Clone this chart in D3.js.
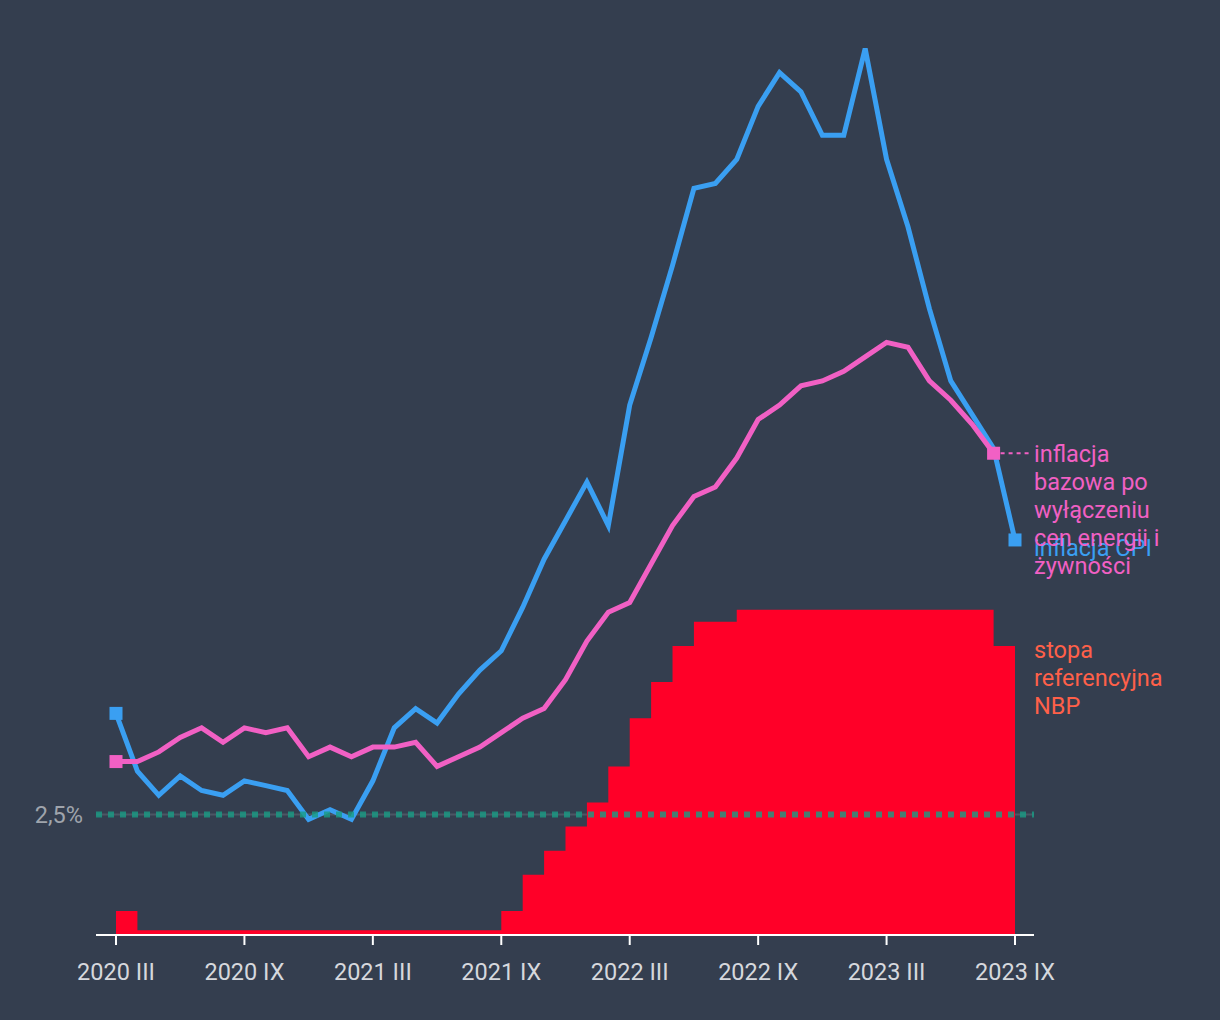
<!DOCTYPE html>
<html>
<head>
<meta charset="utf-8">
<script src="https://cdn.jsdelivr.net/npm/d3@7"></script>
<style>
  html, body { margin: 0; padding: 0; background: #343e4f; }
  svg { display: block; font-family: Roboto, "Noto Sans", sans-serif; }
</style>
</head>
<body>
<svg id="chart" width="1220" height="1020"></svg>
<script>
// Months from 2020 III to 2023 IX
const months = [
  "2020-03","2020-04","2020-05","2020-06","2020-07","2020-08","2020-09","2020-10","2020-11","2020-12",
  "2021-01","2021-02","2021-03","2021-04","2021-05","2021-06","2021-07","2021-08","2021-09","2021-10","2021-11","2021-12",
  "2022-01","2022-02","2022-03","2022-04","2022-05","2022-06","2022-07","2022-08","2022-09","2022-10","2022-11","2022-12",
  "2023-01","2023-02","2023-03","2023-04","2023-05","2023-06","2023-07","2023-08","2023-09"
];
// CPI inflation y/y (%)
const cpi = [
  4.6,3.4,2.9,3.3,3.0,2.9,3.2,3.1,3.0,2.4,
  2.6,2.4,3.2,4.3,4.7,4.4,5.0,5.5,5.9,6.8,7.8,8.6,
  9.4,8.5,11.0,12.4,13.9,15.5,15.6,16.1,17.2,17.9,17.5,16.6,
  16.6,18.4,16.1,14.7,13.0,11.5,10.8,10.1,8.2
];
// Core inflation excl. food and energy (%), ends 2023-08
const core = [
  3.6,3.6,3.8,4.1,4.3,4.0,4.3,4.2,4.3,3.7,
  3.9,3.7,3.9,3.9,4.0,3.5,3.7,3.9,4.2,4.5,4.7,5.3,
  6.1,6.7,6.9,7.7,8.5,9.1,9.3,9.9,10.7,11.0,11.4,11.5,
  11.7,12.0,12.3,12.2,11.5,11.1,10.6,10.0
];
// NBP reference rate (%)
const rate = [
  1.0,0.5,0.1,0.1,0.1,0.1,0.1,0.1,0.1,0.1,
  0.1,0.1,0.1,0.1,0.1,0.1,0.1,0.1,0.1,0.5,1.25,1.75,
  2.25,2.75,3.5,4.5,5.25,6.0,6.5,6.5,6.75,6.75,6.75,6.75,
  6.75,6.75,6.75,6.75,6.75,6.75,6.75,6.75,6.0
];
const tickIdx = [0,6,12,18,24,30,36,42];
const tickLabels = ["2020 III","2020 IX","2021 III","2021 IX","2022 III","2022 IX","2023 III","2023 IX"];
const target = 2.5;
const targetLabel = "2,5%";
const labelCore = ["inflacja","bazowa po","wyłączeniu","cen energii i","żywności"];
const labelCpi = ["inflacja CPI"];
const labelRate = ["stopa","referencyjna","NBP"];

const colors = {
  bg: "#343e4f", cpi: "#3a9ff2", core: "#f160c4", rate: "#ff0028",
  rateLabel: "#ff6049", target: "#199c84", targetLine: "#4c5665",
  axis: "#ffffff", tickText: "#d6d8dd", yText: "#9fa4ac"
};
const FS = 23.5;

const svg = d3.select("#chart");
const x = d3.scaleLinear().domain([0, months.length - 1]).range([116, 1015]);
const y = d3.scaleLinear().domain([0, 19.2]).range([935, 10]);

svg.append("rect").attr("width", 1220).attr("height", 1020).attr("fill", colors.bg);

// target grey guide line (under area)
svg.append("line")
  .attr("x1", 96).attr("x2", 1034).attr("y1", y(target)).attr("y2", y(target))
  .attr("stroke", colors.targetLine).attr("stroke-width", 2);

// reference rate step area
const area = d3.area()
  .x((d, i) => x(i)).y0(y(0)).y1(d => y(d))
  .curve(d3.curveStepBefore);
svg.append("path").datum(rate).attr("d", area).attr("fill", colors.rate);

// lines
const line = d3.line().x((d, i) => x(i)).y(d => y(d)).curve(d3.curveLinear);
svg.append("path").datum(cpi).attr("d", line)
  .attr("fill", "none").attr("stroke", colors.cpi).attr("stroke-width", 5)
  .attr("stroke-linejoin", "miter");
svg.append("path").datum(core).attr("d", line)
  .attr("fill", "none").attr("stroke", colors.core).attr("stroke-width", 5)
  .attr("stroke-linejoin", "miter");

// end markers
function markers(data, col) {
  const pts = [0, data.length - 1];
  svg.selectAll(null).data(pts).enter().append("rect")
    .attr("x", i => x(i) - 6.5).attr("y", i => y(data[i]) - 6.5)
    .attr("width", 13).attr("height", 13).attr("fill", col);
}
markers(cpi, colors.cpi);
markers(core, colors.core);

// target dotted line on top
svg.append("line")
  .attr("x1", 96).attr("x2", 1034).attr("y1", y(target)).attr("y2", y(target))
  .attr("stroke", colors.target).attr("stroke-width", 6).attr("stroke-opacity", 0.8)
  .attr("stroke-dasharray", "6 6");

svg.append("text")
  .attr("x", 83).attr("y", y(target) + 8)
  .attr("text-anchor", "end").attr("font-size", FS).attr("fill", colors.yText)
  .text(targetLabel);

// x axis
const axisY = y(0);
svg.append("line").attr("x1", 96).attr("x2", 1034).attr("y1", axisY).attr("y2", axisY)
  .attr("stroke", colors.axis).attr("stroke-width", 2);
const ticks = svg.selectAll(".tick").data(tickIdx).enter().append("g")
  .attr("transform", i => `translate(${x(i)},${axisY})`);
ticks.append("line").attr("y1", 0).attr("y2", 10).attr("stroke", colors.axis).attr("stroke-width", 2);
ticks.append("text").attr("y", 45).attr("text-anchor", "middle")
  .attr("font-size", FS).attr("fill", colors.tickText)
  .text((d, k) => tickLabels[k]);

// labels
function multiLabel(lines, xPos, yCenter, col) {
  const t = svg.append("text").attr("x", xPos).attr("y", yCenter + 8)
    .attr("font-size", FS).attr("fill", col);
  lines.forEach((l, k) => {
    t.append("tspan").attr("x", xPos).attr("dy", k === 0 ? 0 : 28).text(l);
  });
}
const lastCore = core.length - 1;
svg.append("line")
  .attr("x1", x(lastCore) + 7).attr("x2", 1029)
  .attr("y1", y(core[lastCore])).attr("y2", y(core[lastCore]))
  .attr("stroke", colors.core).attr("stroke-width", 2).attr("stroke-dasharray", "4 4");

multiLabel(labelCpi, 1034, y(cpi[cpi.length - 1]) + 8, colors.cpi);
multiLabel(labelCore, 1034, y(core[lastCore]) + 1, colors.core);
multiLabel(labelRate, 1034, y(rate[rate.length - 1]) + 4, colors.rateLabel);
</script>
</body>
</html>
